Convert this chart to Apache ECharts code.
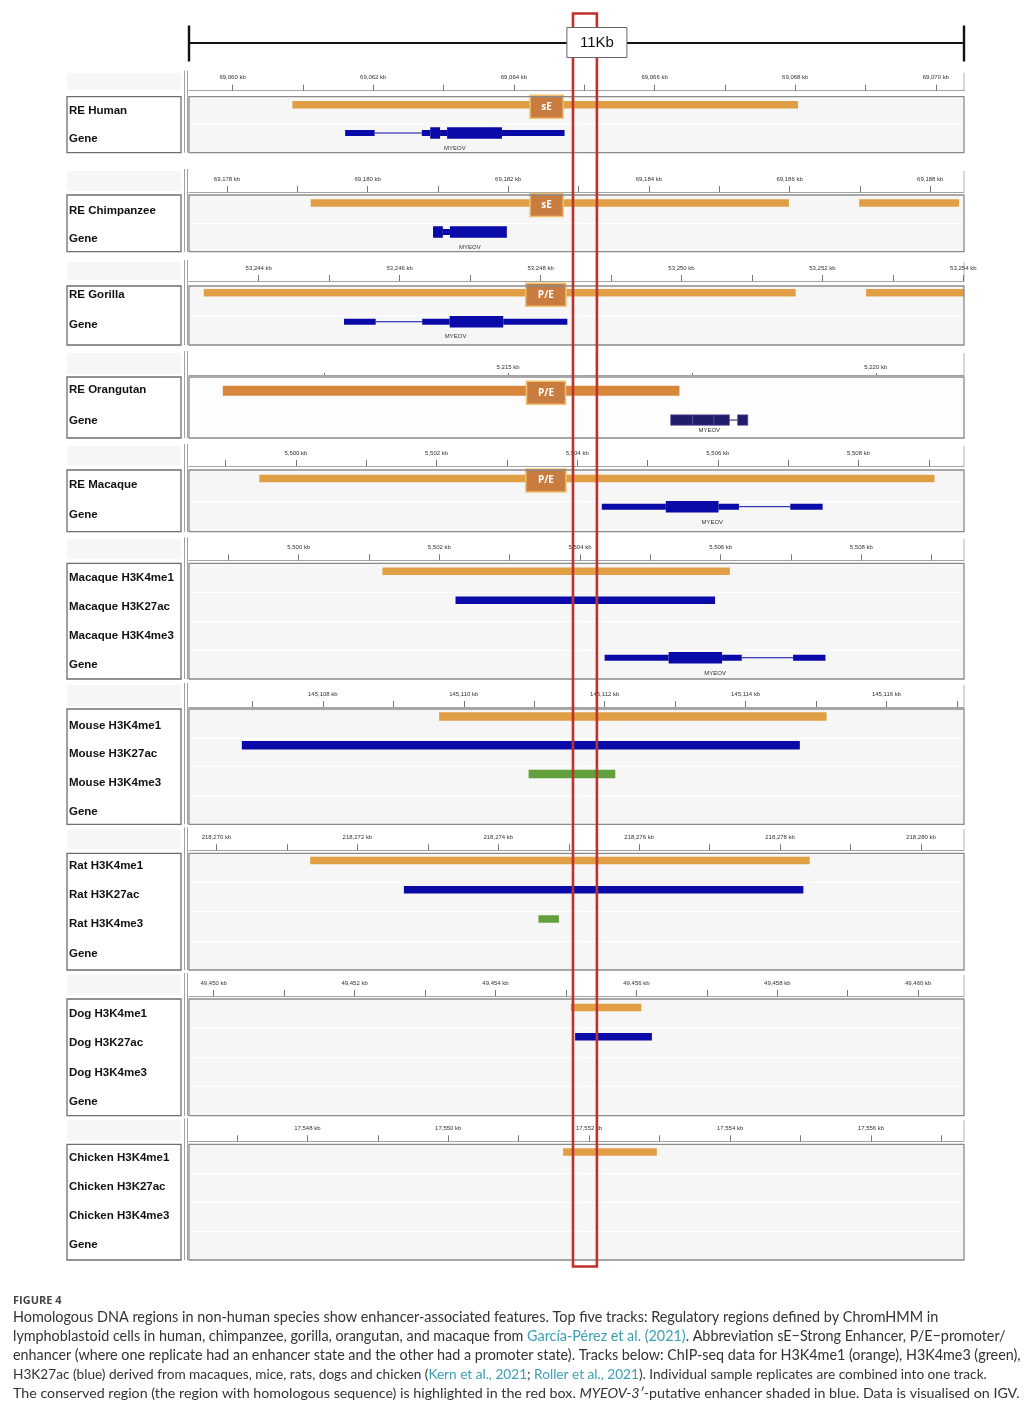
<!DOCTYPE html>
<html><head><meta charset="utf-8">
<script src="https://cdn.jsdelivr.net/npm/echarts@6/dist/echarts.min.js"></script>
<style>html,body{margin:0;padding:0;background:#fff}#c{width:1036px;height:1410px}</style>
</head><body><div id="c"></div>
<script>
const INTRON = 0, UTR = 1, CDS = 2;

// ---------- Human ----------
const humanRange = [69059.38, 69070.40];
const humanTicks = [69060, 69061, 69062, 69063, 69064, 69065, 69066, 69067, 69068, 69069, 69070];
const humanTickLabels = [69060, 69062, 69064, 69066, 69068, 69070];
const humanRE = [[69060.85, 69068.04]];
const humanMarks = [[69064.23, 69064.70, 'sE']];
const humanGene = [[69061.60, 69062.02, UTR], [69062.02, 69062.69, INTRON], [69062.69, 69062.81, UTR], [69062.81, 69062.95, CDS], [69062.95, 69063.05, UTR], [69063.05, 69063.83, CDS], [69063.83, 69064.72, UTR]];

// ---------- Chimpanzee ----------
const chimpRange = [69177.46, 69188.48];
const chimpTicks = [69178, 69179, 69180, 69181, 69182, 69183, 69184, 69185, 69186, 69187, 69188];
const chimpTickLabels = [69178, 69180, 69182, 69184, 69186, 69188];
const chimpRE = [[69179.19, 69185.99], [69186.99, 69188.41]];
const chimpMarks = [[69182.31, 69182.78, 'sE']];
const chimpGene = [[69180.93, 69181.07, CDS], [69181.07, 69181.17, UTR], [69181.17, 69181.98, CDS]];

// ---------- Gorilla ----------
const gorillaRange = [53243.01, 53254.01];
const gorillaTicks = [53244, 53245, 53246, 53247, 53248, 53249, 53250, 53251, 53252, 53253, 53254];
const gorillaTickLabels = [53244, 53246, 53248, 53250, 53252, 53254];
const gorillaRE = [[53243.22, 53251.62], [53252.62, 53254.01]];
const gorillaMarks = [[53247.79, 53248.36, 'P/E']];
const gorillaGene = [[53245.21, 53245.66, UTR], [53245.66, 53246.32, INTRON], [53246.32, 53246.71, UTR], [53246.71, 53247.47, CDS], [53247.47, 53248.38, UTR]];

// ---------- Orangutan ----------
const orangutanRange = [5210.66, 5221.20];
const orangutanTicks = [5212.5, 5215, 5217.5, 5220];
const orangutanTickLabels = [5215, 5220];
const orangutanRE = [[5211.12, 5217.33]];
const orangutanMarks = [[5215.25, 5215.78, 'P/E']];
const orangutanGene = [[5217.21, 5217.51, CDS], [5217.51, 5217.80, CDS], [5217.80, 5218.01, CDS], [5218.01, 5218.12, INTRON], [5218.12, 5218.26, CDS]];

// ---------- Macaque (ChromHMM) ----------
const macaqueRange = [5498.48, 5509.50];
const macaqueTicks = [5499, 5500, 5501, 5502, 5503, 5504, 5505, 5506, 5507, 5508, 5509];
const macaqueTickLabels = [5500, 5502, 5504, 5506, 5508];
const macaqueRE = [[5499.48, 5509.08]];
const macaqueMarks = [[5503.27, 5503.84, 'P/E']];
const macaqueGene = [[5504.35, 5505.26, UTR], [5505.26, 5506.01, CDS], [5506.01, 5506.30, UTR], [5506.30, 5507.03, INTRON], [5507.03, 5507.49, UTR]];

// ---------- Macaque ChIP-seq ----------
const macaqueChipRange = [5498.44, 5509.46];
const macaqueH3K4me1 = [[5501.19, 5506.13]];
const macaqueH3K27ac = [[5502.23, 5505.92]];
const macaqueH3K4me3 = [];
const macaqueChipGene = [[5504.35, 5505.26, UTR], [5505.26, 5506.02, CDS], [5506.02, 5506.30, UTR], [5506.30, 5507.03, INTRON], [5507.03, 5507.49, UTR]];

// ---------- Mouse ----------
const mouseRange = [145106.10, 145117.10];
const mouseTicks = [145107, 145108, 145109, 145110, 145111, 145112, 145113, 145114, 145115, 145116, 145117];
const mouseTickLabels = [145108, 145110, 145112, 145114, 145116];
const mouseH3K4me1 = [[145109.65, 145115.15]];
const mouseH3K27ac = [[145106.85, 145114.77]];
const mouseH3K4me3 = [[145110.92, 145112.15]];

// ---------- Rat ----------
const ratRange = [218269.61, 218280.61];
const ratTicks = [218270, 218271, 218272, 218273, 218274, 218275, 218276, 218277, 218278, 218279, 218280];
const ratTickLabels = [218270, 218272, 218274, 218276, 218278, 218280];
const ratH3K4me1 = [[218271.33, 218278.42]];
const ratH3K27ac = [[218272.66, 218278.33]];
const ratH3K4me3 = [[218274.57, 218274.86]];

// ---------- Dog ----------
const dogRange = [49449.65, 49460.65];
const dogTicks = [49450, 49451, 49452, 49453, 49454, 49455, 49456, 49457, 49458, 49459, 49460];
const dogTickLabels = [49450, 49452, 49454, 49456, 49458, 49460];
const dogH3K4me1 = [[49455.07, 49456.07]];
const dogH3K27ac = [[49455.13, 49456.22]];
const dogH3K4me3 = [];

// ---------- Chicken ----------
const chickenRange = [17546.32, 17557.32];
const chickenTicks = [17547, 17548, 17549, 17550, 17551, 17552, 17553, 17554, 17555, 17556, 17557];
const chickenTickLabels = [17548, 17550, 17552, 17554, 17556];
const chickenH3K4me1 = [[17551.63, 17552.96]];
const chickenH3K27ac = [];
const chickenH3K4me3 = [];

// conserved (homologous) region, human coordinates, and scale label
const conservedRegion = [69064.84, 69065.18];
const scaleLabel = '11Kb';
const geneName = 'MYEOV';

// ---------- styles ----------
const ORANGE = '#e19f45', ORANGE_DARK = '#d8863c', BLUE = '#0a0aa8', GREEN = '#62a03c', NAVY = '#221c6c';
const MARK_FILL = '#c87c40', MARK_STROKE = '#f0c06c';
const LABEL_FONT = 'Liberation Sans';

const panels = [
  {tracks: ['RE Human', 'Gene'], range: humanRange, ticks: humanTicks, labels: humanTickLabels,
   top: 96.7, bottom: 152.7, off: 6, ldy: 0, bdy: -6, gdy: -5.7,
   bars: [[0, humanRE, ORANGE]], marks: [0, humanMarks], gene: [1, humanGene, BLUE]},
  {tracks: ['RE Chimpanzee', 'Gene'], range: chimpRange, ticks: chimpTicks, labels: chimpTickLabels,
   top: 195, bottom: 251.7, off: 3, ldy: 1.7, bdy: -6.2, gdy: -5.5,
   bars: [[0, chimpRE, ORANGE]], marks: [0, chimpMarks], gene: [1, chimpGene, BLUE]},
  {tracks: ['RE Gorilla', 'Gene'], range: gorillaRange, ticks: gorillaTicks, labels: gorillaTickLabels,
   top: 286, bottom: 345, off: 5, ldy: -5.5, bdy: -8, gdy: -8.5,
   bars: [[0, gorillaRE, ORANGE]], marks: [0, gorillaMarks], gene: [1, gorillaGene, BLUE]},
  {tracks: ['RE Orangutan', 'Gene'], range: orangutanRange, ticks: orangutanTicks, labels: orangutanTickLabels,
   top: 377, bottom: 438, off: 2, ldy: -2, bdy: -1.5, gdy: -2.7, glab: 10.7, barH: 10, tickLen: 2, lmargin: 4.5, bg: '#fdfdfd', cdsH: 10.5, gap: true,
   bars: [[0, orangutanRE, ORANGE_DARK]], marks: [0, orangutanMarks], gene: [1, orangutanGene, NAVY]},
  {tracks: ['RE Macaque', 'Gene'], range: macaqueRange, ticks: macaqueTicks, labels: macaqueTickLabels,
   top: 470, bottom: 531.7, off: 4, ldy: -1, bdy: -7, gdy: -9.6, glab: 15.6,
   bars: [[0, macaqueRE, ORANGE]], marks: [0, macaqueMarks], gene: [1, macaqueGene, BLUE]},
  {tracks: ['Macaque H3K4me1', 'Macaque H3K27ac', 'Macaque H3K4me3', 'Gene'], range: macaqueChipRange, ticks: macaqueTicks, labels: macaqueTickLabels,
   top: 563.3, bottom: 679, off: 3, ldy: 0.5, bdy: -6.5, gdy: -6.8, glab: 15.6,
   bars: [[0, macaqueH3K4me1, ORANGE], [1, macaqueH3K27ac, BLUE], [2, macaqueH3K4me3, GREEN]], gene: [3, macaqueChipGene, BLUE]},
  {tracks: ['Mouse H3K4me1', 'Mouse H3K27ac', 'Mouse H3K4me3', 'Gene'], range: mouseRange, ticks: mouseTicks, labels: mouseTickLabels,
   top: 709, bottom: 824.3, off: 2, ldy: 2, bdy: -7, barH: 8.5,
   bars: [[0, mouseH3K4me1, ORANGE], [1, mouseH3K27ac, BLUE], [2, mouseH3K4me3, GREEN]]},
  {tracks: ['Rat H3K4me1', 'Rat H3K27ac', 'Rat H3K4me3', 'Gene'], range: ratRange, ticks: ratTicks, labels: ratTickLabels,
   top: 853.3, bottom: 970, off: 3, ldy: -2, bdy: -7.3,
   bars: [[0, ratH3K4me1, ORANGE], [1, ratH3K27ac, BLUE], [2, ratH3K4me3, GREEN]]},
  {tracks: ['Dog H3K4me1', 'Dog H3K27ac', 'Dog H3K4me3', 'Gene'], range: dogRange, ticks: dogTicks, labels: dogTickLabels,
   top: 999, bottom: 1115.7, off: 3, ldy: 0.5, bdy: -6,
   bars: [[0, dogH3K4me1, ORANGE], [1, dogH3K27ac, BLUE], [2, dogH3K4me3, GREEN]]},
  {tracks: ['Chicken H3K4me1', 'Chicken H3K27ac', 'Chicken H3K4me3', 'Gene'], range: chickenRange, ticks: chickenTicks, labels: chickenTickLabels,
   top: 1144.3, bottom: 1260, off: 3, ldy: -0.5, bdy: -6.8,
   bars: [[0, chickenH3K4me1, ORANGE], [1, chickenH3K27ac, BLUE], [2, chickenH3K4me3, GREEN]]}
];

function fmtKb(v) { return Number(v).toLocaleString('en-US') + ' kb'; }

const grids = [], xAxes = [], yAxes = [], series = [], graphics = [];
const LEFT = 189, WIDTH = 775;

panels.forEach((p, i) => {
  const H = p.bottom - p.top;
  const tickLen = p.tickLen || 6;
  grids.push({left: LEFT, width: WIDTH, top: p.top, height: H, show: true, backgroundColor: p.bg || '#f6f6f6', borderWidth: 0});
  xAxes.push({
    gridIndex: i, type: 'value', position: 'top', offset: p.off, min: p.range[0], max: p.range[1],
    axisLine: {show: true, lineStyle: {color: '#a3a3a3', width: 1}},
    axisTick: {show: true, customValues: p.ticks, length: tickLen, lineStyle: {color: '#555', width: 0.8}},
    axisLabel: {show: true, customValues: p.labels, formatter: fmtKb, fontSize: 6, color: '#333', margin: p.lmargin || (tickLen + 4), fontFamily: LABEL_FONT},
    splitLine: {show: false}
  });
  const pad = p.ldy < 0 ? [0, 0, -2 * p.ldy, 0] : [2 * p.ldy, 0, 0, 0];
  yAxes.push({
    gridIndex: i, type: 'category', inverse: true, data: p.tracks,
    axisLine: {show: false}, axisTick: {show: false},
    axisLabel: {align: 'left', margin: 120, formatter: v => '{a|' + v + '}',
      rich: {a: {fontSize: 11.5, fontWeight: 'bold', color: '#111', fontFamily: LABEL_FONT, padding: pad}}},
    splitLine: {show: true, lineStyle: {color: '#ffffff', width: 1}}
  });

  const barH = p.barH || 7.5;
  (p.bars || []).forEach(([track, arr, color]) => {
    series.push({
      type: 'custom', xAxisIndex: i, yAxisIndex: i, clip: true, silent: true,
      data: arr.map(d => [d[0], d[1], track]), encode: {x: [0, 1], y: 2},
      renderItem: (params, api) => {
        const a = api.coord([api.value(0), api.value(2)]);
        const b = api.coord([api.value(1), api.value(2)]);
        return {type: 'rect', shape: {x: a[0], y: a[1] + p.bdy - barH / 2, width: b[0] - a[0], height: barH}, style: {fill: color}};
      }
    });
  });

  if (p.marks) {
    const [track, arr] = p.marks;
    series.push({
      type: 'custom', xAxisIndex: i, yAxisIndex: i, clip: false, silent: true, z: 5,
      data: arr.map(d => [d[0], d[1], track]), encode: {x: [0, 1], y: 2},
      renderItem: (params, api) => {
        const a = api.coord([api.value(0), api.value(2)]);
        const b = api.coord([api.value(1), api.value(2)]);
        const cy = a[1] + p.bdy + 2;
        return {type: 'group', children: [
          {type: 'rect', shape: {x: a[0], y: cy - 11.5, width: b[0] - a[0], height: 23}, style: {fill: MARK_FILL, stroke: MARK_STROKE, lineWidth: 1.5}},
          {type: 'text', style: {text: arr[params.dataIndex][2], x: (a[0] + b[0]) / 2, y: cy, align: 'center', verticalAlign: 'middle', fill: '#fff', fontSize: 10, fontWeight: 'bold', fontFamily: 'Open Sans'}}
        ]};
      }
    });
  }

  if (p.gene) {
    const [track, arr, color] = p.gene;
    const cdsH = p.cdsH || 11.5;
    series.push({
      type: 'custom', xAxisIndex: i, yAxisIndex: i, clip: true, silent: true,
      data: arr.map(d => [d[0], d[1], d[2], track]), encode: {x: [0, 1], y: 3},
      renderItem: (params, api) => {
        const a = api.coord([api.value(0), api.value(3)]);
        const b = api.coord([api.value(1), api.value(3)]);
        const cy = a[1] + p.gdy;
        const part = api.value(2);
        if (part === INTRON) return {type: 'line', shape: {x1: a[0], y1: cy, x2: b[0], y2: cy}, style: {stroke: color, lineWidth: 1}};
        const h = part === CDS ? cdsH : 6;
        return {type: 'rect', shape: {x: a[0], y: cy - h / 2, width: b[0] - a[0], height: h},
          style: {fill: color, stroke: p.gap ? '#5a56a0' : null, lineWidth: p.gap ? 0.6 : 0}};
      }
    });
    const gs = Math.min(...arr.map(d => d[0])), ge = Math.max(...arr.map(d => d[1]));
    series.push({
      type: 'custom', xAxisIndex: i, yAxisIndex: i, clip: false, silent: true,
      data: [[(gs + ge) / 2, track]], encode: {x: 0, y: 1},
      renderItem: (params, api) => {
        const a = api.coord([api.value(0), api.value(1)]);
        return {type: 'text', style: {text: geneName, x: a[0], y: a[1] + p.gdy + (p.glab || 15), align: 'center', verticalAlign: 'middle', fill: '#333', fontSize: 6, fontFamily: LABEL_FONT}};
      }
    });
  }

  // decorations
  const rulerTop = p.top - 26, base = p.top - p.off;
  graphics.push({type: 'rect', z: 0, shape: {x: 67, y: rulerTop + 2, width: 114, height: base - rulerTop - 3}, style: {fill: '#f6f6f6'}, silent: true});
  graphics.push({type: 'rect', z: 0, shape: {x: 67, y: p.top, width: 114, height: H}, style: {fill: 'transparent', stroke: '#6e6e6e', lineWidth: 1.3}, silent: true});
  graphics.push({type: 'line', z: 0, shape: {x1: 184.5, y1: rulerTop, x2: 184.5, y2: p.bottom}, style: {stroke: '#a0a0a0', lineWidth: 1}, silent: true});
  graphics.push({type: 'line', z: 0, shape: {x1: 187.5, y1: rulerTop, x2: 187.5, y2: p.bottom}, style: {stroke: '#a0a0a0', lineWidth: 1}, silent: true});
  graphics.push({type: 'line', z: 0, shape: {x1: 964, y1: rulerTop + 2, x2: 964, y2: base}, style: {stroke: '#b0b0b0', lineWidth: 1}, silent: true});
  graphics.push({type: 'rect', z: 50, shape: {x: LEFT, y: p.top, width: WIDTH, height: H}, style: {fill: 'transparent', stroke: '#8a8a8a', lineWidth: 1.3}, silent: true});
});

// caption
const captionLines = [
  {y: 1317, right: 939, parts: [['n', 'Homologous DNA regions in non-human species show enhancer-associated features. Top five tracks: Regulatory regions defined by ChromHMM in']]},
  {y: 1336, right: 1006, parts: [['n', 'lymphoblastoid cells in human, chimpanzee, gorilla, orangutan, and macaque from '], ['l', 'García-Pérez et al. (2021)'], ['n', '. Abbreviation sE−Strong Enhancer, P/E−promoter/']]},
  {y: 1355.5, right: 1021, parts: [['n', 'enhancer (where one replicate had an enhancer state and the other had a promoter state). Tracks below: ChIP-seq data for H3K4me1 (orange), H3K4me3 (green),']]},
  {y: 1374.5, right: 988, parts: [['n', 'H3K27ac (blue) derived from macaques, mice, rats, dogs and chicken ('], ['l', 'Kern et al., 2021'], ['n', '; '], ['l', 'Roller et al., 2021'], ['n', '). Individual sample replicates are combined into one track.']]},
  {y: 1393.5, right: 1021, parts: [['n', 'The conserved region (the region with homologous sequence) is highlighted in the red box. '], ['i', 'MYEOV-3′'], ['n', '-putative enhancer shaded in blue. Data is visualised on IGV.']]}
];
const CAP_FONT = 'Lato';
const mctx = document.createElement('canvas').getContext('2d');
function measure(parts, size) {
  let w = 0;
  parts.forEach(([k, t]) => { mctx.font = (k === 'i' ? 'italic ' : '') + size + 'px ' + CAP_FONT; w += mctx.measureText(t).width; });
  return w;
}
captionLines.forEach(line => {
  const w = measure(line.parts, 14);
  const s = 14 * (line.right - 13) / w;
  graphics.push({type: 'text', z: 10, silent: true, style: {
    x: 13, y: line.y, verticalAlign: 'middle',
    text: line.parts.map(([k, t]) => '{' + k + '|' + t + '}').join(''),
    rich: {
      n: {fontSize: s, fontFamily: CAP_FONT, fill: '#333'},
      l: {fontSize: s, fontFamily: CAP_FONT, fill: '#3aa0b4'},
      i: {fontSize: s, fontFamily: CAP_FONT, fill: '#333', fontStyle: 'italic'}
    }
  }});
});
graphics.push({type: 'text', z: 10, silent: true, style: {x: 13, y: 1301, verticalAlign: 'middle', text: 'FIGURE 4', fontSize: 11, fontWeight: 'bold', fontFamily: 'Open Sans', fill: '#444'}});

const chart = echarts.init(document.getElementById('c'), null, {renderer: 'canvas'});
chart.setOption({
  animation: false, backgroundColor: '#fff',
  grid: grids, xAxis: xAxes, yAxis: yAxes, series: series, graphic: graphics
});

// red conserved-region box and top scale bar, placed with the human axis
const rx0 = chart.convertToPixel({xAxisIndex: 0}, conservedRegion[0]);
const rx1 = chart.convertToPixel({xAxisIndex: 0}, conservedRegion[1]);
const sx0 = chart.convertToPixel({xAxisIndex: 0}, humanRange[0]);
const sx1 = chart.convertToPixel({xAxisIndex: 0}, humanRange[1]);
const extra = [
  {type: 'rect', z: 100, silent: true, shape: {x: rx0, y: 13.5, width: rx1 - rx0, height: 1253}, style: {fill: 'transparent', stroke: '#c0312b', lineWidth: 2.6}},
  {type: 'line', z: 90, silent: true, shape: {x1: sx0, y1: 43, x2: sx1, y2: 43}, style: {stroke: '#111', lineWidth: 2.2}},
  {type: 'line', z: 90, silent: true, shape: {x1: sx0, y1: 25.5, x2: sx0, y2: 61.5}, style: {stroke: '#111', lineWidth: 2.4}},
  {type: 'line', z: 90, silent: true, shape: {x1: sx1, y1: 25.5, x2: sx1, y2: 61.5}, style: {stroke: '#111', lineWidth: 2.4}},
  {type: 'rect', z: 110, silent: true, shape: {x: rx1 - 30, y: 27.5, width: 60, height: 30}, style: {fill: '#fff', stroke: '#666', lineWidth: 1}},
  {type: 'text', z: 111, silent: true, style: {x: rx1, y: 43, text: scaleLabel, align: 'center', verticalAlign: 'middle', fontSize: 15, fontFamily: 'Liberation Sans', fill: '#111'}}
];
chart.setOption({graphic: graphics.concat(extra)});
</script></body></html>
